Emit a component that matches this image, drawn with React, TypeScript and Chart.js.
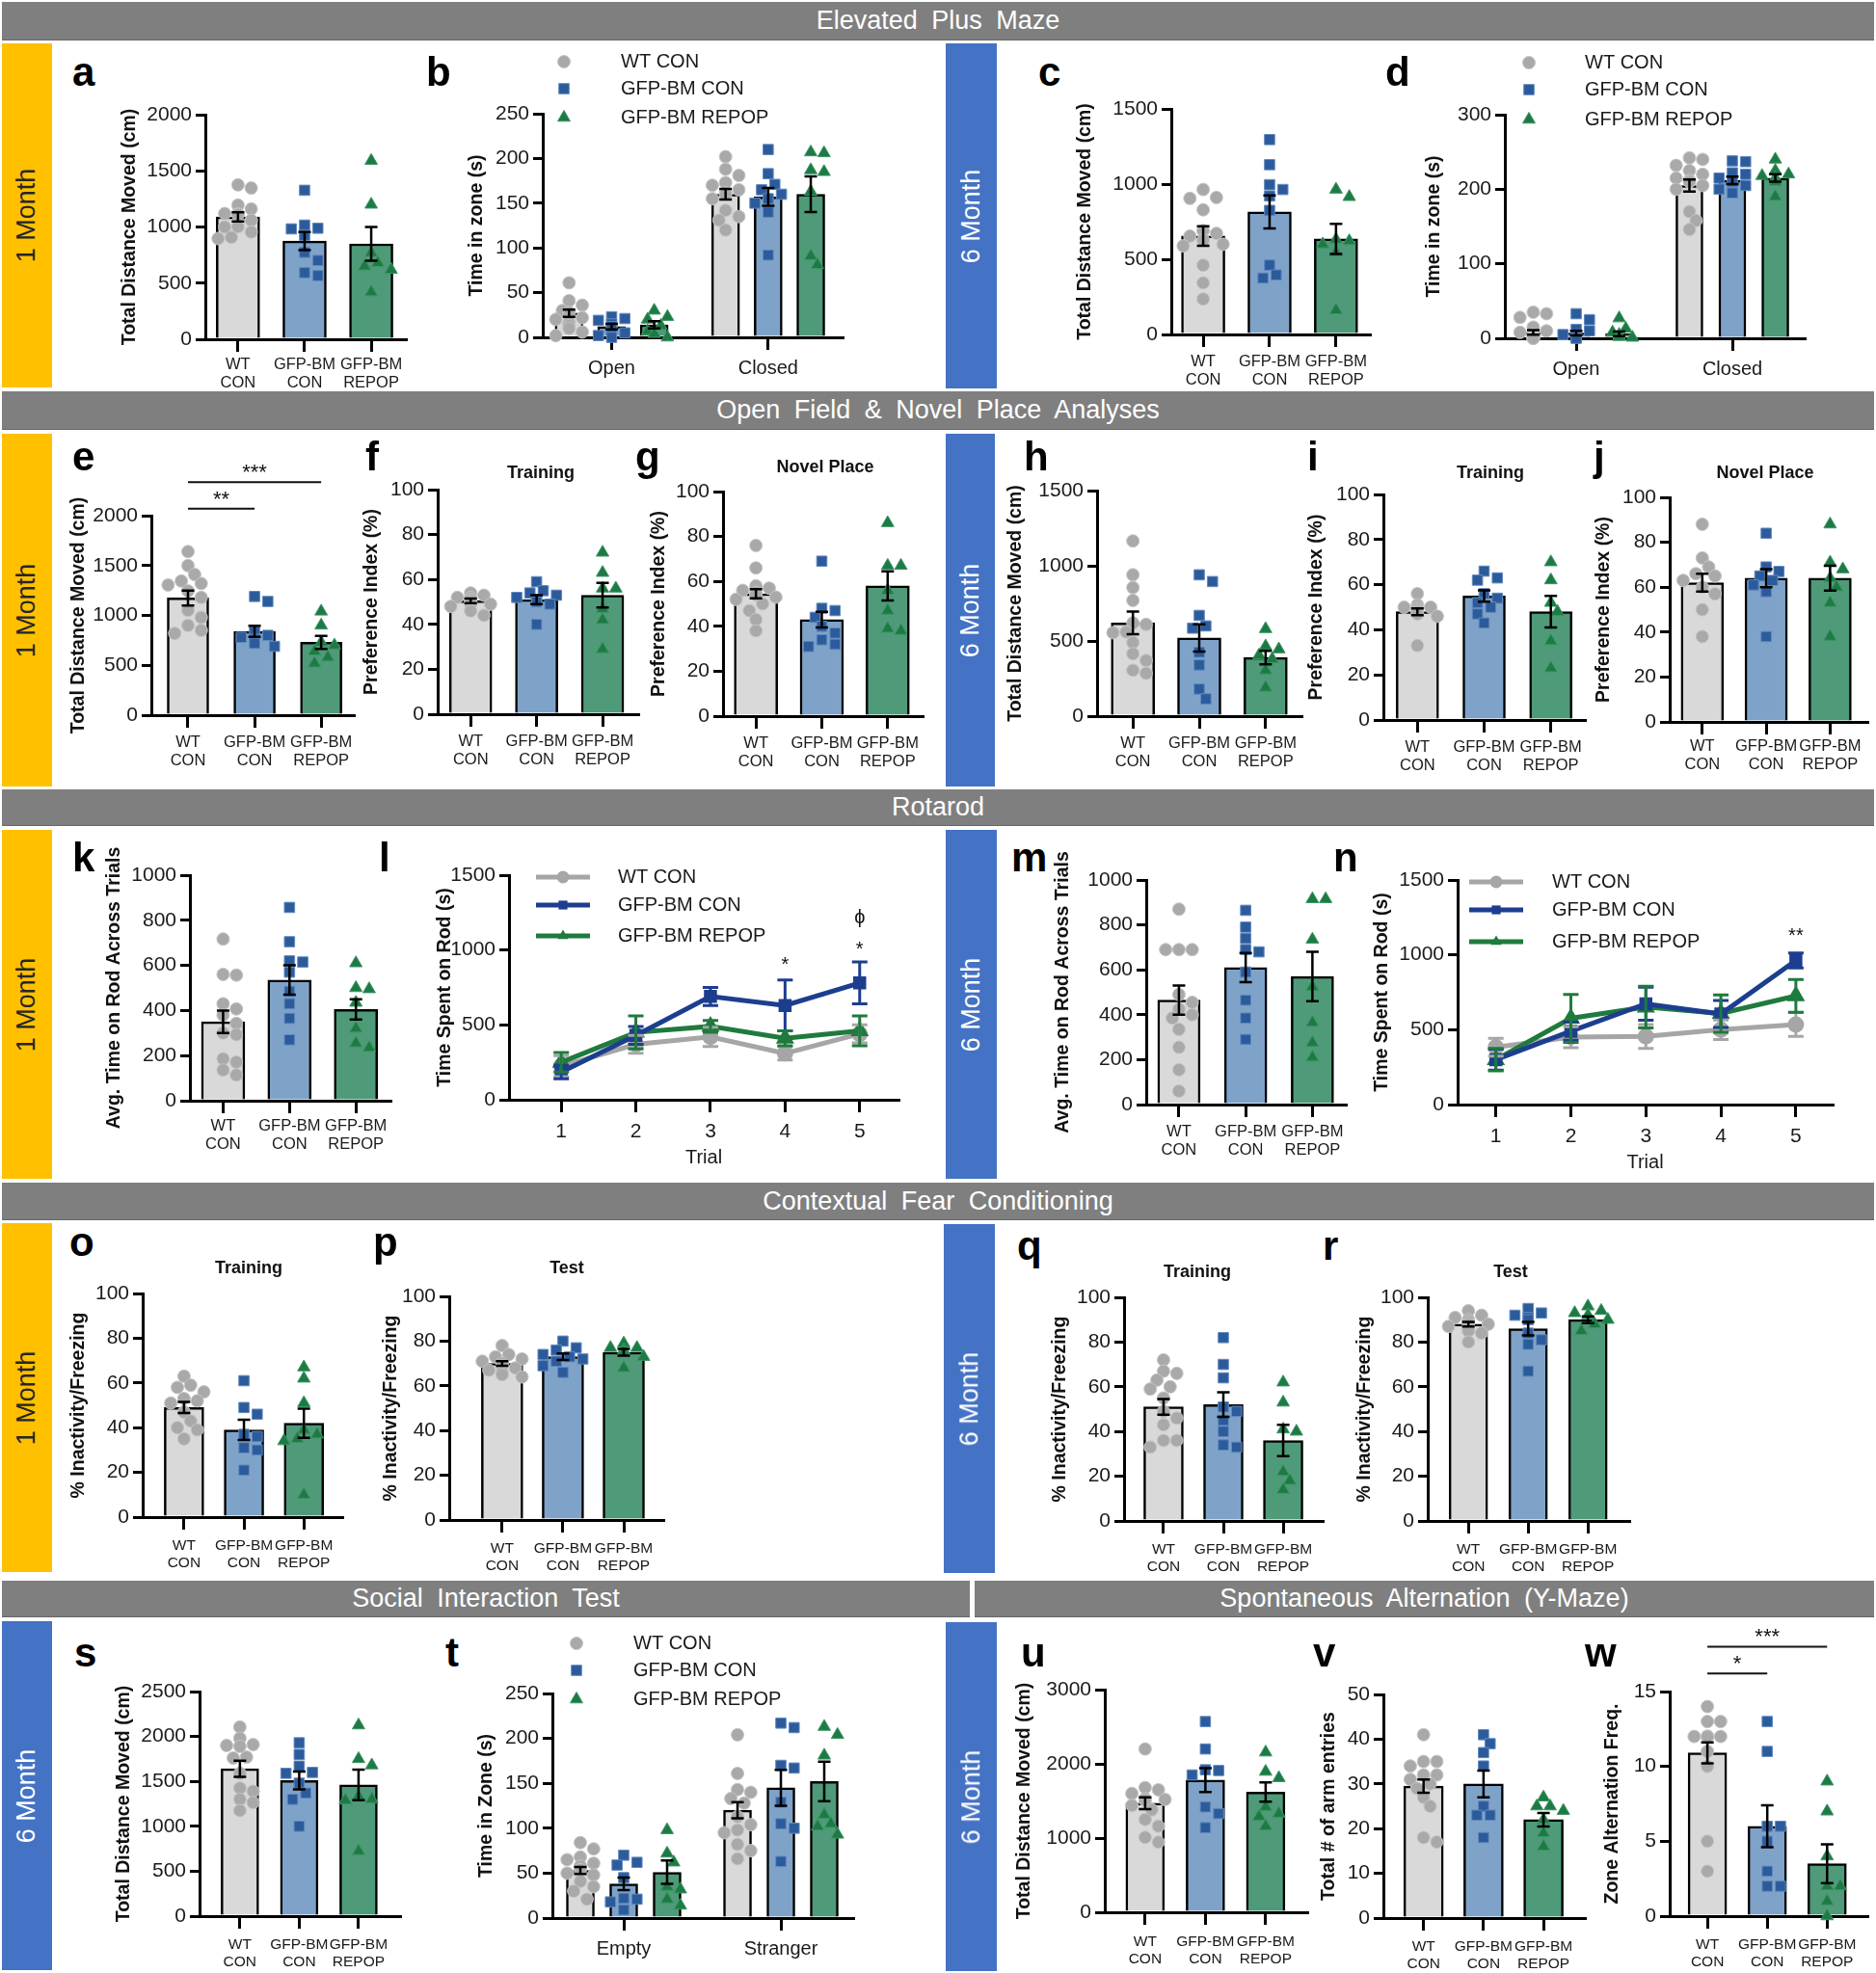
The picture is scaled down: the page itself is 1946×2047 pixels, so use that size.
import React, { useEffect, useRef } from "react";
import { Chart, registerables } from "chart.js";

Chart.register(...registerables);

const W = 1946;
const H = 2047;
const FONT = '"Liberation Sans", Arial, Helvetica, sans-serif';
Chart.defaults.font.family = FONT;
Chart.defaults.color = "#1a1a1a";

// ---------------- labels ----------------
const seriesNames = ["WT CON", "GFP-BM CON", "GFP-BM REPOP"];
const groupTicks = [["WT", "CON"], ["GFP-BM", "CON"], ["GFP-BM", "REPOP"]];
const zoneTicks = ["Open", "Closed"];
const socialTicks = ["Empty", "Stranger"];
const trialTicks = [1, 2, 3, 4, 5];

// ---------------- data ----------------
// a  EPM 1 month distance
const aMeans = [1090, 875, 850];
const aSem = [40, 80, 150];
const aWT = [1375, 1347, 1195, 1160, 1120, 1117, 1110, 1060, 1003, 1000, 955, 908, 897];
const aGFP = [1327, 1017, 989, 983, 926, 774, 702, 593, 567];
const aREP = [1590, 1200, 770, 680, 650, 620, 420];
// b  EPM 1 month time in zone [Open, Closed]
const bMeans = [[27, 160], [12, 157], [14, 160]];
const bSem = [[4, 6], [3, 10], [4, 20]];
const bWT = [[61, 41, 36, 30, 28, 25, 22, 20, 16, 13, 10, 6, 2], [202, 188, 181, 173, 170, 165, 162, 160, 155, 142, 135, 131, 120]];
const bGFP = [[23, 21, 19, 15, 12, 9, 5, 2, 0], [210, 183, 171, 165, 160, 155, 150, 140, 92]];
const bREP = [[30, 23, 20, 13, 7, 4, 0], [207, 206, 187, 185, 163, 91, 81]];
// c  EPM 6 month distance
const cMeans = [655, 815, 635];
const cSem = [65, 110, 100];
const cWT = [964, 911, 905, 829, 690, 672, 654, 628, 600, 589, 461, 343, 236];
const cGFP = [1296, 1129, 996, 964, 921, 825, 461, 396, 375];
const cREP = [964, 915, 632, 621, 600, 546, 161];
// d  EPM 6 month time in zone
const dMeans = [[8, 205], [7, 212], [6, 215]];
const dSem = [[3, 8], [3, 5], [3, 5]];
const dWT = [[35, 33, 28, 15, 10, 8, 5, 3, 2, 1, 0, 0, 0], [242, 240, 232, 225, 220, 215, 212, 210, 205, 200, 170, 158, 146]];
const dGFP = [[33, 25, 12, 10, 5, 3, 2, 1, 0], [238, 237, 222, 220, 215, 210, 205, 200, 195]];
const dREP = [[27, 13, 8, 5, 3, 2, 1], [240, 225, 220, 218, 215, 210, 190]];
// e  Open field 1 month
const eMeans = [1175, 840, 730];
const eSem = [75, 55, 65];
const eWT = [1640, 1500, 1410, 1345, 1320, 1305, 1245, 1180, 1050, 980, 900, 850, 820];
const eGFP = [1190, 1140, 840, 800, 780, 760, 740, 720, 690];
const eREP = [1040, 900, 730, 700, 640, 580, 520];
const eBrackets = [{ from: 0, to: 2, y: 2335, text: "***" }, { from: 0, to: 1, y: 2070, text: "**" }];
// f  Training 1 month
const fMeans = [50.5, 51, 53];
const fSem = [1, 2, 5.5];
const fWT = [54, 53, 52, 52, 51, 51, 50, 50, 49, 49, 48, 46, 44];
const fGFP = [59, 55, 54, 53, 52, 51, 50, 49, 40];
const fREP = [72, 63, 56, 56, 47, 42, 29];
// g  Novel place 1 month
const gMeans = [54.5, 43, 58];
const gSem = [2, 3.5, 6.5];
const gWT = [76, 66, 58, 57, 56, 55, 54, 53, 52, 50, 47, 43, 38];
const gGFP = [69, 48, 47, 44, 40, 37, 34, 32, 31];
const gREP = [86, 67, 67, 56, 47, 39, 38];
// h  Open field 6 month
const hMeans = [620, 520, 390];
const hSem = [75, 90, 45];
const hWT = [1165, 940, 855, 770, 620, 610, 560, 555, 490, 415, 370, 305, 285];
const hGFP = [940, 895, 670, 600, 585, 425, 340, 180, 115];
const hREP = [580, 465, 445, 405, 380, 305, 190];
// i  Training 6 month
const iMeans = [48, 55, 48];
const iSem = [1.5, 2.5, 7];
const iWT = [56, 51, 50, 50, 50, 49, 49, 48, 48, 47, 46, 33];
const iGFP = [66, 63, 62, 56, 54, 52, 50, 47, 43];
const iREP = [70, 62, 52, 48, 35, 23];
// j  Novel place 6 month
const jMeans = [62, 64, 64];
const jSem = [4, 4, 5.5];
const jWT = [88, 73, 69, 66, 65, 63, 60, 57, 50, 38];
const jGFP = [84, 69, 67, 65, 63, 61, 58, 38];
const jREP = [88, 71, 68, 64, 60, 53, 38];
// k  Rotarod avg 1 month
const kMeans = [350, 535, 405];
const kSem = [50, 65, 45];
const kWT = [717, 560, 557, 430, 407, 380, 343, 300, 293, 186, 171, 136, 114];
const kGFP = [857, 705, 620, 615, 570, 485, 430, 365, 270];
const kREP = [610, 500, 495, 435, 320, 255, 235];
// l  Rotarod trials 1 month
const lMeans = [[225, 370, 420, 310, 440], [185, 430, 690, 630, 780], [250, 450, 490, 410, 460]];
const lSem = [[70, 60, 65, 45, 60], [45, 60, 60, 170, 140], [65, 110, 40, 50, 100]];
const lMarks = [{ x: 4, y: 860, text: "*" }, { x: 5, y: 966, text: "*" }, { x: 5, y: 1178, text: "ϕ" }];
// m  Rotarod avg 6 month
const mMeans = [465, 610, 570];
const mSem = [65, 65, 110];
const mWT = [870, 690, 690, 690, 490, 455, 425, 400, 385, 335, 255, 155, 60];
const mGFP = [865, 790, 740, 690, 680, 590, 465, 385, 290];
const mREP = [915, 915, 735, 525, 365, 275, 210];
// n  Rotarod trials 6 month
const nMeans = [[383, 450, 455, 500, 535], [300, 490, 673, 605, 963], [300, 576, 651, 608, 726]];
const nSem = [[60, 70, 80, 65, 80], [70, 60, 110, 90, 50], [75, 160, 140, 125, 110]];
const nMarks = [{ x: 5, y: 1088, text: "**" }];
// o  CFC training 1 month
const oMeans = [49, 39, 42];
const oSem = [2.5, 4.5, 6.5];
const oWT = [63, 59, 58, 56, 53, 52, 51, 47, 43, 40, 39, 35];
const oGFP = [61, 49, 46, 37, 36, 31, 30, 21];
const oREP = [67, 62, 51, 39, 37, 35, 34, 10];
// p  CFC test 1 month
const pMeans = [70, 73, 75];
const pSem = [1, 1.5, 1.5];
const pWT = [78, 74, 73, 72, 71, 70, 70, 69, 68, 67, 66, 65, 64];
const pGFP = [80, 77, 76, 74, 73, 72, 71, 69, 66];
const pREP = [79, 77, 77, 76, 75, 73, 68];
// q  CFC training 6 month
const qMeans = [51, 52, 36];
const qSem = [3.5, 5.5, 7];
const qWT = [72, 67, 66, 63, 60, 59, 55, 49, 46, 43, 36, 36, 33];
const qGFP = [82, 70, 64, 51, 49, 45, 40, 34, 33];
const qREP = [62, 53, 41, 40, 22, 18, 14];
// r  CFC test 6 month
const rMeans = [88, 86, 90];
const rSem = [1, 3, 1.5];
const rWT = [94, 92, 91, 90, 89, 89, 88, 88, 87, 86, 85, 84, 80];
const rGFP = [95, 93, 92, 91, 90, 84, 81, 79, 67];
const rREP = [96, 94, 93, 92, 90, 88, 85];
// s  Social interaction distance
const sMeans = [1640, 1510, 1460];
const sSem = [90, 100, 170];
const sWT = [2105, 1980, 1910, 1900, 1890, 1770, 1760, 1590, 1425, 1390, 1300, 1265, 1175];
const sGFP = [1930, 1800, 1670, 1600, 1590, 1480, 1370, 1300, 1000];
const sREP = [2125, 1750, 1680, 1335, 1300, 1290, 725];
// t  Social interaction time in zone [Empty, Stranger]
const tMeans = [[53, 120], [38, 145], [51, 152]];
const tSem = [[4, 9], [7, 20], [13, 22]];
const tWT = [[84, 77, 68, 65, 61, 58, 54, 50, 48, 41, 35, 30, 21], [204, 161, 143, 140, 133, 128, 113, 104, 98, 95, 82, 75, 66]];
const tGFP = [[70, 62, 59, 45, 22, 21, 18, 9], [217, 212, 170, 167, 129, 105, 100, 63]];
const tREP = [[98, 72, 62, 35, 32, 21, 14], [213, 204, 181, 115, 105, 102, 93]];
// u  Y-maze distance
const uMeans = [1470, 1780, 1620];
const uSem = [80, 160, 130];
const uWT = [2200, 1680, 1650, 1600, 1530, 1520, 1510, 1440, 1380, 1250, 1160, 1010, 945];
const uGFP = [2570, 2200, 1920, 1910, 1850, 1420, 1330, 1140];
const uREP = [2155, 1895, 1810, 1420, 1330, 1290, 1160];
// v  Y-maze arm entries
const vMeans = [29.5, 30, 22];
const vSem = [1.5, 3, 1.5];
const vWT = [41, 35, 35, 34, 32, 32, 31, 30, 29, 27, 25, 18, 17];
const vGFP = [41, 39, 37, 34, 25, 23, 23, 18];
const vREP = [27, 25, 25, 24, 22, 19, 16];
// w  Y-maze alternation
const wMeans = [10.9, 6, 3.5];
const wSem = [0.7, 1.4, 1.3];
const wWT = [14, 13, 13, 12, 12, 12, 12, 12, 12, 11, 10, 5, 3];
const wGFP = [13, 11, 6, 6, 5, 3, 2, 2];
const wREP = [9, 7, 4, 2, 2, 1, 0];
const wBrackets = [{ from: 0, to: 2, y: 18, text: "***" }, { from: 0, to: 1, y: 16.2, text: "*" }];

// ---------------- styles ----------------
const BAR_FILL = ["#d9d9d9", "#7fa3c8", "#4f9a79"];
const PT_FILL = ["#a9a9a9", "#2c5b9c", "#1d7a45"];
const PT_EDGE = ["#c4c4c4", "#6189bf", "#3c9663"];
const PT_STYLE = ["circle", "rect", "triangle"];
const PT_RADIUS = [6.5, 7.5, 7.5];
const LINE_COLOR = ["#a6a6a6", "#1d3e8f", "#1f7a3d"];

const DIST = "Total Distance Moved (cm)";
const PREF = "Preference Index (%)";
const FREEZE = "% Inactivity/Freezing";
const ROD = "Avg. Time on Rod Across Trials";
const SPENT = "Time Spent on Rod (s)";
const NARROW = 15.5;

// ---------------- panel layout ----------------
const panels: any[] = [
  { id: "a", rect: [213, 119, 421, 352], titleX: 135, yTitle: DIST, yMax: 2000, yStep: 500, xMin: -0.49, xMax: 2.52, barW: 45, means: aMeans, sems: aSem, pts: [aWT, aGFP, aREP], xPad: 4 },
  { id: "b", grouped: true, rect: [563, 118, 874, 350], titleX: 495, yTitle: "Time in zone (s)", yMax: 250, yStep: 50, xMin: -0.44, xMax: 1.475, dOff: 0.272, barW: 29, means: bMeans, sems: bSem, pts: [bWT, bGFP, bREP], ticks: zoneTicks, padTop: 78, legend: { mx: 585, tx: 644, ys: [64, 92, 122] } },
  { id: "c", rect: [1215, 113, 1421, 347], titleX: 1126, yTitle: DIST, yMax: 1500, yStep: 500, xMin: -0.48, xMax: 2.51, barW: 45, means: cMeans, sems: cSem, pts: [cWT, cGFP, cREP] },
  { id: "d", grouped: true, rect: [1561, 119, 1872, 351], titleX: 1488, yTitle: "Time in zone (s)", yMax: 300, yStep: 100, xMin: -0.457, xMax: 1.463, dOff: 0.275, barW: 28, means: dMeans, sems: dSem, pts: [dWT, dGFP, dREP], ticks: zoneTicks, padTop: 78, legend: { mx: 1586, tx: 1644, ys: [65, 93, 124] } },
  { id: "e", rect: [157, 535, 367, 742], titleX: 82, yTitle: DIST, yMax: 2000, yStep: 500, xMin: -0.55, xMax: 2.49, barW: 43, means: eMeans, sems: eSem, pts: [eWT, eGFP, eREP], brackets: eBrackets, padTop: 62 },
  { id: "f", rect: [454, 508, 662, 741], titleX: 386, yTitle: PREF, yMax: 100, yStep: 20, xMin: -0.5, xMax: 2.54, barW: 44, means: fMeans, sems: fSem, pts: [fWT, fGFP, fREP] },
  { id: "g", rect: [750, 510, 957, 743], titleX: 684, yTitle: PREF, yMax: 100, yStep: 20, xMin: -0.5, xMax: 2.53, barW: 45, means: gMeans, sems: gSem, pts: [gWT, gGFP, gREP] },
  { id: "h", rect: [1138, 509, 1350, 743], titleX: 1054, yTitle: DIST, yMax: 1500, yStep: 500, xMin: -0.54, xMax: 2.54, barW: 45, means: hMeans, sems: hSem, pts: [hWT, hGFP, hREP] },
  { id: "i", rect: [1435, 513, 1644, 747], titleX: 1366, yTitle: PREF, yMax: 100, yStep: 20, xMin: -0.51, xMax: 2.51, barW: 44, means: iMeans, sems: iSem, pts: [iWT, iGFP, iREP] },
  { id: "j", rect: [1732, 516, 1946, 749], titleX: 1664, yTitle: PREF, yMax: 100, yStep: 20, xMin: -0.51, xMax: 2.59, barW: 44, means: jMeans, sems: jSem, pts: [jWT, jGFP, jREP], xPad: 3 },
  { id: "k", rect: [197, 908, 405, 1142], titleX: 119, yTitle: ROD, yMax: 1000, yStep: 200, xMin: -0.5, xMax: 2.52, barW: 45, means: kMeans, sems: kSem, pts: [kWT, kGFP, kREP], xPad: 4 },
  { id: "l", kind: "line", rect: [528, 908, 932, 1141], titleX: 462, yTitle: SPENT, yMax: 1500, yStep: 500, xMin: 0.3, xMax: 5.52, means: lMeans, sems: lSem, marks: lMarks, legend: { line: [556, 612], tx: 641, ys: [910, 939, 971] } },
  { id: "m", rect: [1189, 913, 1396, 1146], titleX: 1103, yTitle: ROD, yMax: 1000, yStep: 200, xMin: -0.49, xMax: 2.5, barW: 44, means: mMeans, sems: mSem, pts: [mWT, mGFP, mREP] },
  { id: "n", kind: "line", rect: [1512, 913, 1901, 1146], titleX: 1434, yTitle: SPENT, yMax: 1500, yStep: 500, xMin: 0.49, xMax: 5.49, means: nMeans, sems: nSem, marks: nMarks, legend: { line: [1524, 1580], tx: 1610, ys: [915, 944, 977] } },
  { id: "o", rect: [148, 1342, 355, 1574], titleX: 82, yTitle: FREEZE, yMax: 100, yStep: 20, xMin: -0.69, xMax: 2.64, barW: 41, means: oMeans, sems: oSem, pts: [oWT, oGFP, oREP], xFont: NARROW, xPad: 8 },
  { id: "p", rect: [466, 1345, 688, 1577], titleX: 406, yTitle: FREEZE, yMax: 100, yStep: 20, xMin: -0.87, xMax: 2.65, barW: 43, means: pMeans, sems: pSem, pts: [pWT, pGFP, pREP], xFont: NARROW, xPad: 8 },
  { id: "q", rect: [1166, 1346, 1372, 1578], titleX: 1100, yTitle: FREEZE, yMax: 100, yStep: 20, xMin: -0.66, xMax: 2.66, barW: 41, means: qMeans, sems: qSem, pts: [qWT, qGFP, qREP], xFont: NARROW, xPad: 8 },
  { id: "r", rect: [1481, 1346, 1690, 1578], titleX: 1416, yTitle: FREEZE, yMax: 100, yStep: 20, xMin: -0.68, xMax: 2.69, barW: 40, means: rMeans, sems: rSem, pts: [rWT, rGFP, rREP], xFont: NARROW, xPad: 8 },
  { id: "s", rect: [207, 1755, 415, 1988], titleX: 129, yTitle: DIST, yMax: 2500, yStep: 500, xMin: -0.68, xMax: 2.7, barW: 39, means: sMeans, sems: sSem, pts: [sWT, sGFP, sREP], xFont: NARROW, xPad: 8 },
  { id: "t", grouped: true, rect: [573, 1757, 885, 1990], titleX: 505, yTitle: "Time in Zone (s)", yMax: 250, yStep: 50, xMin: -0.454, xMax: 1.46, dOff: 0.276, barW: 29, means: tMeans, sems: tSem, pts: [tWT, tGFP, tREP], ticks: socialTicks, padTop: 82, legend: { mx: 598, tx: 657, ys: [1705, 1733, 1763] } },
  { id: "u", rect: [1146, 1753, 1356, 1984], titleX: 1063, yTitle: DIST, yMax: 3000, yStep: 1000, xMin: -0.67, xMax: 2.69, barW: 40, means: uMeans, sems: uSem, pts: [uWT, uGFP, uREP], xFont: NARROW, xPad: 9 },
  { id: "v", rect: [1435, 1758, 1644, 1990], titleX: 1379, yTitle: "Total # of arm entries", yMax: 50, yStep: 10, xMin: -0.67, xMax: 2.69, barW: 41, means: vMeans, sems: vSem, pts: [vWT, vGFP, vREP], xFont: NARROW, xPad: 8 },
  { id: "w", rect: [1732, 1755, 1938, 1988], titleX: 1673, yTitle: "Zone Alternation Freq.", yMax: 15, yStep: 5, xMin: -0.63, xMax: 2.68, barW: 40, means: wMeans, sems: wSem, pts: [wWT, wGFP, wREP], brackets: wBrackets, padTop: 70, xFont: NARROW, xPad: 8 },
];

const headers = [
  { text: "Elevated Plus Maze", x: 2, y: 2, w: 1942, h: 40 },
  { text: "Open Field & Novel Place Analyses", x: 2, y: 406, w: 1942, h: 40 },
  { text: "Rotarod", x: 2, y: 819, w: 1942, h: 38 },
  { text: "Contextual Fear Conditioning", x: 2, y: 1227, w: 1942, h: 39 },
  { text: "Social Interaction Test", x: 2, y: 1640, w: 1004, h: 38 },
  { text: "Spontaneous Alternation (Y-Maze)", x: 1011, y: 1640, w: 933, h: 38 },
];

const YEL = "#ffc000";
const BLU = "#4472c4";
const sideLabels = [
  { x: 2, y: 45, w: 52, h: 357, bg: YEL, text: "1 Month" },
  { x: 981, y: 45, w: 53, h: 358, bg: BLU, text: "6 Month" },
  { x: 2, y: 450, w: 52, h: 366, bg: YEL, text: "1 Month" },
  { x: 981, y: 450, w: 51, h: 366, bg: BLU, text: "6 Month" },
  { x: 2, y: 861, w: 52, h: 362, bg: YEL, text: "1 Month" },
  { x: 981, y: 861, w: 53, h: 362, bg: BLU, text: "6 Month" },
  { x: 2, y: 1269, w: 52, h: 362, bg: YEL, text: "1 Month" },
  { x: 979, y: 1270, w: 53, h: 362, bg: BLU, text: "6 Month" },
  { x: 2, y: 1682, w: 52, h: 362, bg: BLU, text: "6 Month" },
  { x: 981, y: 1683, w: 53, h: 362, bg: BLU, text: "6 Month" },
];

const letters: [string, number, number][] = [
  ["a", 75, 90], ["b", 442, 90], ["c", 1077, 90], ["d", 1437, 90],
  ["e", 75, 489], ["f", 379, 489], ["g", 659, 489], ["h", 1062, 489], ["i", 1356, 489], ["j", 1653, 489],
  ["k", 75, 905], ["l", 393, 905], ["m", 1049, 905], ["n", 1383, 905],
  ["o", 72, 1304], ["p", 387, 1304], ["q", 1055, 1308], ["r", 1372, 1308],
  ["s", 77, 1730], ["t", 462, 1730], ["u", 1059, 1730], ["v", 1362, 1730], ["w", 1644, 1730],
];

const chartTitles: [string, number, number][] = [
  ["Training", 561, 496], ["Novel Place", 856, 490], ["Training", 1546, 496], ["Novel Place", 1831, 496],
  ["Training", 258, 1321], ["Test", 588, 1321], ["Training", 1242, 1325], ["Test", 1567, 1325],
];

// ---------------- helpers ----------------
function swarm(vals: number[], pxY: number, diam: number, maxHalf: number): number[] {
  const order = vals.map((_, i) => i).sort((a, b) => vals[b] - vals[a]);
  const placed: { x: number; y: number }[] = [];
  const out = new Array(vals.length).fill(0);
  const step = diam * 0.55;
  for (const i of order) {
    const y = vals[i] * pxY;
    let chosen = 0;
    for (let k = 0; k < 24; k++) {
      const cand = k === 0 ? 0 : (k % 2 ? 1 : -1) * Math.ceil(k / 2) * step;
      if (Math.abs(cand) > maxHalf) break;
      if (placed.every((p) => Math.hypot(p.x - cand, p.y - y) >= diam * 0.92)) {
        chosen = cand;
        break;
      }
      chosen = 0;
    }
    placed.push({ x: chosen, y });
    out[i] = chosen;
  }
  return out;
}

function marker(ctx: CanvasRenderingContext2D, style: string, x: number, y: number, r: number) {
  ctx.beginPath();
  if (style === "circle") {
    ctx.arc(x, y, r, 0, Math.PI * 2);
  } else if (style === "rect") {
    const h = r * Math.SQRT1_2;
    ctx.rect(x - h, y - h, 2 * h, 2 * h);
  } else {
    const a = (2 * Math.PI) / 3;
    ctx.moveTo(x, y - r);
    ctx.lineTo(x + Math.sin(a) * r, y - Math.cos(a) * r);
    ctx.lineTo(x + Math.sin(2 * a) * r, y - Math.cos(2 * a) * r);
    ctx.closePath();
  }
}

const errorBars = {
  id: "errorBars",
  afterDatasetsDraw(chart: any) {
    const ctx = chart.ctx;
    const ys = chart.scales.y;
    chart.data.datasets.forEach((ds: any, di: number) => {
      if (!ds.errors) return;
      const meta = chart.getDatasetMeta(di);
      ctx.save();
      ctx.strokeStyle = ds.errorColor || "#000";
      ctx.lineWidth = ds.errorWidth || 2.5;
      const cap = ds.errorCap || 6.5;
      meta.data.forEach((el: any, i: number) => {
        const v = ds.data[i].y;
        const e = ds.errors[i];
        if (e == null) return;
        const x = el.x;
        const y1 = ys.getPixelForValue(v + e);
        const y2 = ys.getPixelForValue(v - e);
        ctx.beginPath();
        ctx.moveTo(x, y1);
        ctx.lineTo(x, y2);
        ctx.moveTo(x - cap, y1);
        ctx.lineTo(x + cap, y1);
        ctx.moveTo(x - cap, y2);
        ctx.lineTo(x + cap, y2);
        ctx.stroke();
      });
      ctx.restore();
    });
  },
};

function sigPlugin(brackets: any[], marks: any[]) {
  return {
    id: "sig",
    afterDatasetsDraw(chart: any) {
      const ctx = chart.ctx;
      const xs = chart.scales.x;
      const ys = chart.scales.y;
      ctx.save();
      ctx.fillStyle = "#111";
      ctx.strokeStyle = "#111";
      ctx.lineWidth = 2;
      ctx.textAlign = "center";
      ctx.textBaseline = "alphabetic";
      ctx.font = `22px ${FONT}`;
      brackets.forEach((b) => {
        const x1 = xs.getPixelForValue(b.from);
        const x2 = xs.getPixelForValue(b.to);
        const y = ys.getPixelForValue(b.y);
        ctx.beginPath();
        ctx.moveTo(x1, y);
        ctx.lineTo(x2, y);
        ctx.stroke();
        ctx.fillText(b.text, (x1 + x2) / 2, y - 3);
      });
      ctx.font = `20px ${FONT}`;
      marks.forEach((m) => {
        ctx.fillText(m.text, xs.getPixelForValue(m.x), ys.getPixelForValue(m.y));
      });
      ctx.restore();
    },
  };
}

function legendPlugin(lg: any, ox: number, oy: number, isLine: boolean) {
  return {
    id: "vLegend",
    afterDraw(chart: any) {
      if (!lg) return;
      const ctx = chart.ctx;
      ctx.save();
      seriesNames.forEach((name, s) => {
        const y = lg.ys[s] - oy;
        let mx = lg.mx - ox;
        if (isLine) {
          const x1 = lg.line[0] - ox;
          const x2 = lg.line[1] - ox;
          mx = (x1 + x2) / 2;
          ctx.strokeStyle = LINE_COLOR[s];
          ctx.lineWidth = 5;
          ctx.beginPath();
          ctx.moveTo(x1, y);
          ctx.lineTo(x2, y);
          ctx.stroke();
          ctx.fillStyle = LINE_COLOR[s];
          marker(ctx, PT_STYLE[s], mx, y, 6.5);
          ctx.fill();
        } else {
          ctx.fillStyle = PT_FILL[s];
          ctx.strokeStyle = PT_EDGE[s];
          ctx.lineWidth = 1;
          marker(ctx, PT_STYLE[s], mx, y, PT_RADIUS[s]);
          ctx.fill();
          ctx.stroke();
        }
        ctx.fillStyle = "#1a1a1a";
        ctx.font = `20px ${FONT}`;
        ctx.textAlign = "left";
        ctx.textBaseline = "middle";
        ctx.fillText(name, lg.tx - ox, y);
      });
      ctx.restore();
    },
  };
}

function axisCommon(tickLen: number) {
  return {
    grid: { display: true, drawOnChartArea: false, drawTicks: true, tickLength: tickLen, color: "#000", lineWidth: 3, offset: false },
    border: { display: true, color: "#000", width: 3 },
  };
}

function buildConfig(sp: any, cl: number, ct: number, cw: number, ch: number) {
  const [L, T, R, B] = sp.rect;
  const isLine = sp.kind === "line";
  const padTop = T - ct;
  const padRight = cl + cw - R;
  const yW = L - cl;
  const xH = ct + ch - B;
  const datasets: any[] = [];
  let tickVals: number[] = [];
  let tickText: any[] = [];

  if (isLine) {
    tickVals = trialTicks;
    tickText = trialTicks.map(String);
    const order = [3, 1, 2];
    for (let s = 0; s < 3; s++) {
      datasets.push({
        type: "line",
        data: trialTicks.map((t, i) => ({ x: t, y: sp.means[s][i] })),
        errors: sp.sems[s],
        errorColor: LINE_COLOR[s],
        errorWidth: 3,
        errorCap: 8,
        borderColor: LINE_COLOR[s],
        backgroundColor: LINE_COLOR[s],
        borderWidth: 5,
        pointStyle: PT_STYLE[s],
        pointRadius: 6,
        pointBackgroundColor: LINE_COLOR[s],
        pointBorderColor: LINE_COLOR[s],
        tension: 0,
        order: order[s],
        clip: false,
      });
    }
  } else {
    const ticks = sp.grouped ? sp.ticks : groupTicks;
    tickVals = ticks.map((_: any, i: number) => i);
    tickText = ticks;
    const pxX = (R - L) / (sp.xMax - sp.xMin);
    const pxY = (B - T) / sp.yMax;
    const dots: any[] = [];
    for (let s = 0; s < 3; s++) {
      const bd: any[] = [];
      const be: number[] = [];
      const pd: any[] = [];
      const gs = sp.grouped ? ticks.map((_: any, g: number) => g) : [s];
      for (const g of gs) {
        const x = sp.grouped ? g + (s - 1) * sp.dOff : g;
        const mean = sp.grouped ? sp.means[s][g] : sp.means[s];
        const sem = sp.grouped ? sp.sems[s][g] : sp.sems[s];
        const vals: number[] = sp.grouped ? sp.pts[s][g] : sp.pts[s];
        bd.push({ x, y: mean });
        be.push(sem);
        const offs = swarm(vals, pxY, 12.5, sp.barW / 2 + 1);
        vals.forEach((v, i) => pd.push({ x: x + offs[i] / pxX, y: v }));
      }
      datasets.push({
        type: "bar",
        data: bd,
        errors: be,
        backgroundColor: BAR_FILL[s],
        borderColor: "#000",
        borderWidth: 2.5,
        barThickness: sp.barW,
        grouped: false,
        order: 5,
      });
      dots.push({
        type: "scatter",
        data: pd,
        pointStyle: PT_STYLE[s],
        pointRadius: PT_RADIUS[s],
        pointBackgroundColor: PT_FILL[s],
        pointBorderColor: PT_EDGE[s],
        pointBorderWidth: 1,
        showLine: false,
        order: 2,
        clip: false,
      });
    }
    datasets.push(...dots);
  }

  const xFontSize = isLine ? 21 : sp.grouped ? 20 : sp.xFont ?? 16.5;
  const xPadding = isLine ? 8 : sp.grouped ? 7 : sp.xPad ?? 6;
  const xTickLen = 13;

  const plugins: any[] = [errorBars, sigPlugin(sp.brackets || [], sp.marks || [])];
  if (sp.legend) plugins.push(legendPlugin(sp.legend, cl, ct, isLine));

  return {
    type: isLine ? "line" : "bar",
    data: { datasets },
    options: {
      animation: false,
      responsive: false,
      maintainAspectRatio: false,
      events: [],
      layout: { padding: { top: padTop, right: padRight, left: 0, bottom: 0 } },
      plugins: { legend: { display: false }, tooltip: { enabled: false }, title: { display: false } },
      scales: {
        x: {
          type: "linear",
          position: "bottom",
          min: sp.xMin,
          max: sp.xMax,
          offset: false,
          ...axisCommon(xTickLen),
          afterBuildTicks: (scale: any) => {
            scale.ticks = tickVals.map((v) => ({ value: v }));
          },
          afterFit: (scale: any) => {
            scale.height = xH;
            scale.paddingLeft = 0;
            scale.paddingRight = 0;
          },
          ticks: {
            autoSkip: false,
            maxRotation: 0,
            minRotation: 0,
            padding: xPadding,
            color: "#1a1a1a",
            font: { size: xFontSize, lineHeight: isLine || sp.grouped ? 1.2 : 1.15 },
            callback: (v: any) => {
              const idx = tickVals.indexOf(v);
              return idx >= 0 ? tickText[idx] : "";
            },
          },
          title: isLine
            ? { display: true, text: "Trial", color: "#1a1a1a", font: { size: 20 }, padding: { top: 0, bottom: 3 } }
            : { display: false },
        },
        y: {
          type: "linear",
          min: 0,
          max: sp.yMax,
          ...axisCommon(10),
          afterFit: (scale: any) => {
            scale.width = yW;
            scale.paddingTop = 0;
            scale.paddingBottom = 0;
          },
          ticks: {
            stepSize: sp.yStep,
            padding: 4,
            color: "#1a1a1a",
            font: { size: 21 },
            callback: (v: any) => String(v),
          },
          title: { display: true, text: sp.yTitle, color: "#111", font: { size: 19.5, weight: "bold" }, padding: { top: 2, bottom: 0 } },
        },
      },
    },
    plugins,
  };
}

function Panel({ sp }: { sp: any }) {
  const ref = useRef<HTMLCanvasElement>(null);
  const [, T, R, B] = sp.rect;
  const padTop = sp.padTop ?? 30;
  const xH = sp.kind === "line" ? 75 : 62;
  const cl = sp.titleX - 14;
  const ct = T - padTop;
  const cr = Math.min(W, R + 30);
  const cb = B + xH;
  const cw = cr - cl;
  const ch = cb - ct;
  useEffect(() => {
    if (!ref.current) return;
    const chart = new Chart(ref.current, buildConfig(sp, cl, ct, cw, ch) as any);
    return () => chart.destroy();
  }, []);
  return (
    <canvas
      ref={ref}
      width={cw}
      height={ch}
      style={{ position: "absolute", left: cl, top: ct, width: cw, height: ch, zIndex: 1 }}
    />
  );
}

export default function App() {
  return (
    <div
      style={{
        position: "absolute",
        left: 0,
        top: 0,
        width: W,
        height: H,
        background: "#fff",
        overflow: "hidden",
        fontFamily: FONT,
      }}
    >
      {panels.map((sp) => (
        <Panel key={sp.id} sp={sp} />
      ))}
      {letters.map(([t, x, y]) => (
        <div
          key={"L" + t}
          style={{ position: "absolute", left: x, top: y - 0.8465 * 42, fontSize: 42, lineHeight: 1, fontWeight: "bold", color: "#000", zIndex: 2 }}
        >
          {t}
        </div>
      ))}
      {chartTitles.map(([t, cx, y], i) => (
        <div
          key={"T" + i}
          style={{ position: "absolute", left: cx - 100, width: 200, textAlign: "center", top: y - 0.8465 * 18, fontSize: 18, lineHeight: 1, fontWeight: "bold", color: "#111", zIndex: 2 }}
        >
          {t}
        </div>
      ))}
      {sideLabels.map((s, i) => (
        <div
          key={"S" + i}
          style={{ position: "absolute", left: s.x, top: s.y, width: s.w, height: s.h, background: s.bg, display: "flex", alignItems: "center", justifyContent: "center", zIndex: 3 }}
        >
          <span style={{ transform: "rotate(-90deg)", whiteSpace: "nowrap", fontSize: 27, color: s.bg === YEL ? "#262626" : "#fff" }}>{s.text}</span>
        </div>
      ))}
      {headers.map((h, i) => (
        <div
          key={"H" + i}
          style={{ position: "absolute", left: h.x, top: h.y, width: h.w, height: h.h, background: "#7f7f7f", borderBottom: "1px solid #666", boxSizing: "border-box", color: "#fff", fontSize: 27, wordSpacing: 7, display: "flex", alignItems: "center", justifyContent: "center", zIndex: 3 }}
        >
          {h.text}
        </div>
      ))}
    </div>
  );
}
